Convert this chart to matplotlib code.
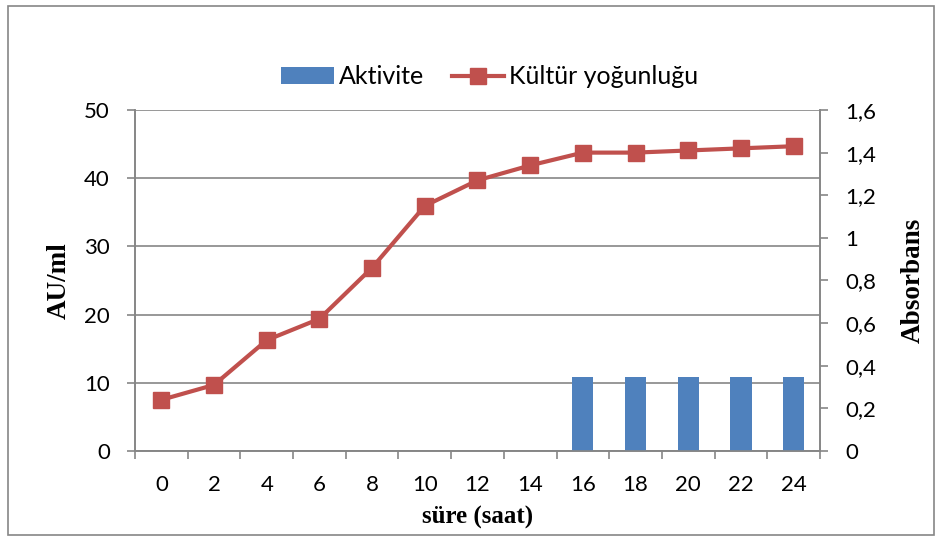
import matplotlib
matplotlib.use("Agg")
import matplotlib.pyplot as plt
import matplotlib.ticker as mticker
from matplotlib.patches import Rectangle

# sampling times (hours)
hours = [0, 2, 4, 6, 8, 10, 12, 14, 16, 18, 20, 22, 24]
# enzyme activity, AU/ml (only measured from hour 16 on)
activity = [0, 0, 0, 0, 0, 0, 0, 0, 10.9, 10.9, 10.9, 10.9, 10.9]
# culture density, absorbance
absorbance = [0.24, 0.31, 0.52, 0.62, 0.86, 1.15, 1.27, 1.34, 1.40, 1.40, 1.41, 1.42, 1.43]

BAR_COLOUR = "#4F81BD"
LINE_COLOUR = "#C0504D"
GRID_COLOUR = "#868686"

plt.rcParams["font.family"] = ["Lato", "DejaVu Sans"]

fig = plt.figure(figsize=(9.42, 5.41), dpi=100)
ax = fig.add_axes([0.1433, 0.1664, 0.7272, 0.6303])
ax2 = ax.twinx()

xs = list(range(len(hours)))
ax.bar(xs, activity, width=0.4, color=BAR_COLOUR, label="Aktivite", zorder=3)
ax2.plot(xs, absorbance, color=LINE_COLOUR, linewidth=3, marker="s",
         markersize=11, label="Kültür yoğunluğu", zorder=4)

ax.set_xlim(-0.5, len(hours) - 0.5)
ax.set_ylim(0, 50)
ax2.set_ylim(0, 1.6)

ax.set_xticks(xs)
ax.set_xticklabels([str(h) for h in hours], fontsize=16)
ax.set_xticks([x - 0.5 for x in xs] + [xs[-1] + 0.5], minor=True)
ax.tick_params(axis="x", which="major", length=0, pad=17)
ax.tick_params(axis="x", which="minor", length=6, color=GRID_COLOUR, width=1.2)

ax.set_yticks(range(0, 51, 10))
ax.tick_params(axis="y", labelsize=16, length=6, color=GRID_COLOUR, width=1.2, pad=12)
ax2.set_yticks([i * 0.2 for i in range(9)])
ax2.yaxis.set_major_formatter(
    mticker.FuncFormatter(lambda v, _: f"{v:.1f}".rstrip("0").rstrip(".").replace(".", ","))
)
ax2.tick_params(axis="y", labelsize=16, length=6, color=GRID_COLOUR, width=1.2, pad=12)

ax.grid(axis="y", color=GRID_COLOUR, linewidth=1.2, zorder=0)
ax.set_axisbelow(True)
for a in (ax, ax2):
    a.spines["top"].set_visible(False)
    for side in ("left", "right", "bottom"):
        a.spines[side].set_color(GRID_COLOUR)
        a.spines[side].set_linewidth(1.2)

serif = ["Liberation Serif", "DejaVu Serif"]
ax.set_ylabel("AU/ml", fontsize=19.5, fontweight="bold", family=serif, labelpad=9)
ax2.set_ylabel("Absorbans", fontsize=19.5, fontweight="bold", family=serif, labelpad=18)
ax.set_xlabel("süre (saat)", fontsize=18, fontweight="bold", family=serif, labelpad=8)

h1, l1 = ax.get_legend_handles_labels()
h2, l2 = ax2.get_legend_handles_labels()
fig.legend(h1 + h2, l1 + l2, loc="center", bbox_to_anchor=(0.52, 0.858), ncol=2,
           frameon=False, fontsize=18, handlelength=2.1, columnspacing=1.1,
           handletextpad=0.2)

# chart border
fig.patches.append(Rectangle((0.008, 0.011), 0.984, 0.978, transform=fig.transFigure,
                             fill=False, edgecolor=GRID_COLOUR, linewidth=1.2))

fig.savefig("out.png", dpi=100)
